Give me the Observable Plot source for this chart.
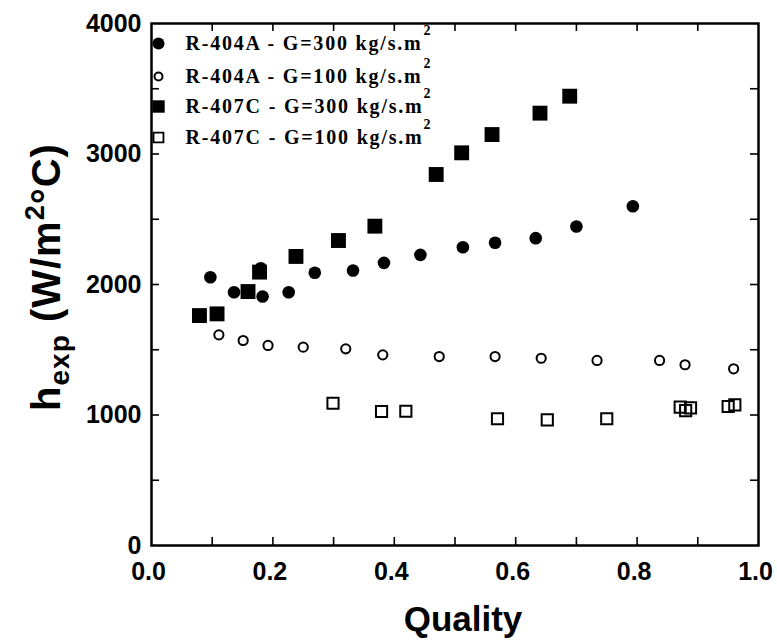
<!DOCTYPE html>
<html>
<head>
<meta charset="utf-8">
<script src="https://cdn.jsdelivr.net/npm/d3@7"></script>
<script src="https://cdn.jsdelivr.net/npm/@observablehq/plot@0.6"></script>
<style>
  html, body { margin: 0; padding: 0; background: #fff; }
  #chart { width: 777px; height: 641px; }
</style>
</head>
<body>
<div id="chart"></div>
<script>
// ---- data ----
const r404a300X = [0.097, 0.136, 0.180, 0.183, 0.226, 0.269, 0.332, 0.383, 0.443, 0.513, 0.566, 0.633, 0.700, 0.793];
const r404a300Y = [2056, 1941, 2125, 1908, 1941, 2090, 2107, 2166, 2227, 2286, 2320, 2355, 2444, 2600];

const r404a100X = [0.111, 0.151, 0.192, 0.250, 0.320, 0.381, 0.474, 0.566, 0.642, 0.734, 0.837, 0.879, 0.959];
const r404a100Y = [1614, 1571, 1533, 1520, 1507, 1461, 1448, 1448, 1435, 1418, 1418, 1385, 1354];

const r407c300X = [0.079, 0.108, 0.159, 0.178, 0.238, 0.308, 0.368, 0.469, 0.511, 0.561, 0.640, 0.689];
const r407c300Y = [1762, 1775, 1946, 2095, 2215, 2337, 2447, 2843, 3009, 3149, 3313, 3443];

const r407c100X = [0.299, 0.379, 0.419, 0.570, 0.652, 0.750, 0.871, 0.880, 0.888, 0.950, 0.961];
const r407c100Y = [1090, 1027, 1029, 971, 963, 971, 1060, 1034, 1055, 1065, 1078];

const legendLabels = ["R-404A - G=300 kg/s.m", "R-404A - G=100 kg/s.m", "R-407C - G=300 kg/s.m", "R-407C - G=100 kg/s.m"];
const xTickLabels = [0, 0.2, 0.4, 0.6, 0.8, 1.0];
const xMinorTicks = [0.1, 0.2, 0.3, 0.4, 0.5, 0.6, 0.7, 0.8, 0.9];
const yTickLabels = [0, 1000, 2000, 3000, 4000];
const yMinorTicks = [500, 1000, 1500, 2000, 2500, 3000, 3500];

const toRows = (xs, ys) => xs.map((x, i) => ({x, y: ys[i]}));

const W = 777, H = 641;
const mL = 151, mR = 19, mT = 23, mB = 96;
const plotW = W - mL - mR, plotH = H - mT - mB;
const tickLen = 8;

const legendRowDy = [20, 53, 83, 114];
const legendSymbols = [
  {symbol: "circle", fill: "black", stroke: "none", r: 6, sw: 0},
  {symbol: "circle", fill: "none", stroke: "black", r: 4, sw: 2},
  {symbol: "square", fill: "black", stroke: "none", r: 7, sw: 0},
  {symbol: "square", fill: "none", stroke: "black", r: 5.6, sw: 1.8}
];

const serif = "Liberation Serif, Times New Roman, serif";
const sans = "Liberation Sans, Arial, sans-serif";

const legendMarks = [];
legendLabels.forEach((lab, i) => {
  const s = legendSymbols[i];
  legendMarks.push(Plot.dot([lab], {frameAnchor: "top-left", dx: 7, dy: legendRowDy[i], r: s.r, symbol: s.symbol, fill: s.fill, stroke: s.stroke, strokeWidth: s.sw}));
  legendMarks.push(Plot.text([lab], {text: d => d, frameAnchor: "top-left", dx: 34, dy: legendRowDy[i], textAnchor: "start", lineAnchor: "middle", fontFamily: serif, fontWeight: "bold", fontSize: 20, fill: "black"}));
  legendMarks.push(Plot.text(["2"], {text: d => d, frameAnchor: "top-left", dx: 272, dy: legendRowDy[i] - 13, textAnchor: "start", lineAnchor: "middle", fontFamily: serif, fontWeight: "bold", fontSize: 14, fill: "black"}));
});

const chart = Plot.plot({
  width: W, height: H,
  marginLeft: mL, marginRight: mR, marginTop: mT, marginBottom: mB,
  style: {background: "white", fontFamily: sans, color: "black"},
  x: {domain: [0, 1], axis: null},
  y: {domain: [0, 4000], axis: null},
  marks: [
    Plot.tickX(xMinorTicks, {x: d => d, insetTop: plotH - tickLen, stroke: "black", strokeWidth: 1.6}),
    Plot.tickX(xMinorTicks, {x: d => d, insetBottom: plotH - tickLen, stroke: "black", strokeWidth: 1.6}),
    Plot.tickY(yMinorTicks, {y: d => d, insetRight: plotW - tickLen, stroke: "black", strokeWidth: 1.6}),
    Plot.tickY(yMinorTicks, {y: d => d, insetLeft: plotW - tickLen, stroke: "black", strokeWidth: 1.6}),
    Plot.axisX({ticks: xTickLabels, tickSize: 0, tickPadding: 17, dx: -3, tickFormat: d3.format(".1f"), fontSize: 25, fontWeight: "bold", label: null}),
    Plot.axisY({ticks: yTickLabels, tickSize: 0, tickPadding: 10, tickFormat: d3.format("d"), fontSize: 25, fontWeight: "bold", label: null}),
    Plot.dot(toRows(r407c100X, r407c100Y), {x: "x", y: "y", symbol: "square", r: 6.3, fill: "none", stroke: "black", strokeWidth: 2}),
    Plot.dot(toRows(r404a100X, r404a100Y), {x: "x", y: "y", symbol: "circle", r: 4.6, fill: "none", stroke: "black", strokeWidth: 2}),
    Plot.dot(toRows(r404a300X, r404a300Y), {x: "x", y: "y", symbol: "circle", r: 6.3, fill: "black", stroke: "none"}),
    Plot.dot(toRows(r407c300X, r407c300Y), {x: "x", y: "y", symbol: "square", r: 8.4, fill: "black", stroke: "none"}),
    ...legendMarks,
    Plot.frame({stroke: "black", strokeWidth: 2.5})
  ]
});

document.getElementById("chart").appendChild(chart);

const svg = d3.select(chart);
// letter spacing for the legend labels
svg.selectAll("text").filter(function() { return this.textContent.startsWith("R-40"); })
  .style("letter-spacing", "1.8px");

// y axis title with subscript / superscript
const yt = svg.append("text")
  .attr("transform", `translate(60, 277) rotate(-90)`)
  .attr("text-anchor", "middle")
  .attr("font-family", sans)
  .attr("font-weight", "bold")
  .attr("font-size", 40)
  .attr("letter-spacing", "1px")
  .attr("fill", "black");
yt.append("tspan").text("h");
yt.append("tspan").attr("font-size", 28).attr("dy", 9).text("exp");
yt.append("tspan").attr("dy", -9).text(" (W/m");
yt.append("tspan").attr("font-size", 27).attr("dy", -16).text("2");
yt.append("tspan").attr("dy", 16).text("°C)");

// x axis title
svg.append("text")
  .attr("x", 463).attr("y", 631)
  .attr("text-anchor", "middle")
  .attr("font-family", sans)
  .attr("font-weight", "bold")
  .attr("font-size", 35)
  .attr("fill", "black")
  .text("Quality");
</script>
</body>
</html>
